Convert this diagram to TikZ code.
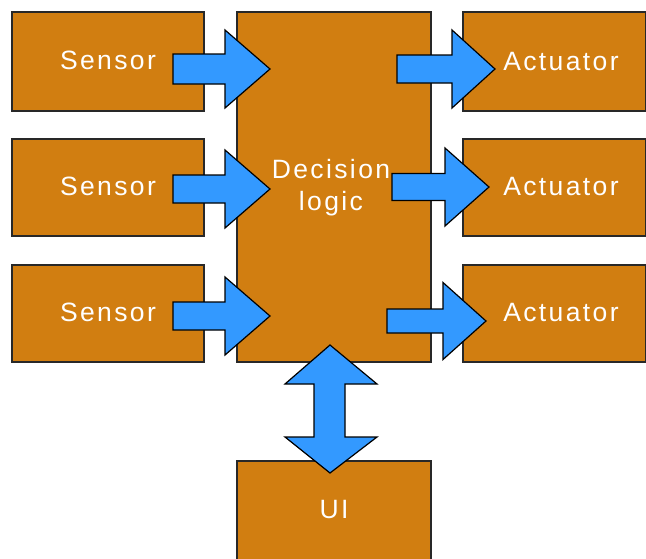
\documentclass[tikz,border=0pt]{standalone}
\usepackage{fontspec}
\setmainfont{Liberation Sans}[LetterSpace=9]
\definecolor{boxfill}{RGB}{209,126,17}
\definecolor{boxline}{RGB}{40,40,40}
\definecolor{arrowfill}{RGB}{51,153,255}
% right-pointing block arrow: start x, head base x, tip x, centre y, body half-height, head half-height
\newcommand\rblock[6]{%
  \draw[blockarrow] (#1,#4-#5) -- (#2,#4-#5) -- (#2,#4-#6) -- (#3,#4)
    -- (#2,#4+#6) -- (#2,#4+#5) -- (#1,#4+#5) -- cycle;}
\tikzset{
  box/.style={draw=boxline, fill=boxfill, line width=1.3pt},
  blockarrow/.style={draw=black, fill=arrowfill, line width=1.2pt, line join=miter},
  lbl/.style={text=white, font=\fontsize{26.5}{32}\selectfont, anchor=base, inner sep=0pt},
}
\begin{document}
\begin{tikzpicture}[x=1pt, y=-1pt]
  \clip (0,0) rectangle (646,558);
  \fill[white] (0,0) rectangle (646,558);

  % blocks
  \draw[box] (12,12)   rectangle (204,111) coordinate (s1);
  \draw[box] (12,139)  rectangle (204,236) coordinate (s2);
  \draw[box] (12,265)  rectangle (204,362) coordinate (s3);
  \draw[box] (237,12)  rectangle (431,362) coordinate (dl);
  \draw[box] (463,12)  rectangle (645.3,111) coordinate (a1);
  \draw[box] (463,139) rectangle (645.3,236) coordinate (a2);
  \draw[box] (463,265) rectangle (645.3,362) coordinate (a3);
  \draw[box] (237,461) rectangle (431,575) coordinate (ui);

  % labels
  \node[lbl] (ts1) at (108,69)  {Sensor};
  \node[lbl] (ts2) at (108,195) {Sensor};
  \node[lbl] (ts3) at (108,321) {Sensor};
  \node[lbl] (ta1) at (561,70)  {Actuator};
  \node[lbl] (ta2) at (561,195) {Actuator};
  \node[lbl] (ta3) at (561,321) {Actuator};
  \node[lbl] (td1) at (331,178) {Decision};
  \node[lbl] (td2) at (331,210) {logic};
  \node[lbl] (tui) at (334,518) {UI};

  % sensor -> decision logic
  \rblock{173}{225}{270}{69}{15}{39}
  \rblock{173}{225}{270}{189}{14}{39}
  \rblock{173}{225}{270}{316}{14}{39}

  % decision logic -> actuators
  \rblock{397}{452}{495}{69}{14}{39}
  \rblock{392}{445}{489}{187}{13.5}{39}
  \rblock{387}{443}{486}{321}{12}{38.5}

  % decision logic <-> UI
  \draw[blockarrow] (330,345) -- (377,384) -- (345,384) -- (345,437) -- (377,437)
    -- (330,473) -- (285,437) -- (314,437) -- (314,384) -- (285,384) -- cycle;
\end{tikzpicture}
\end{document}
